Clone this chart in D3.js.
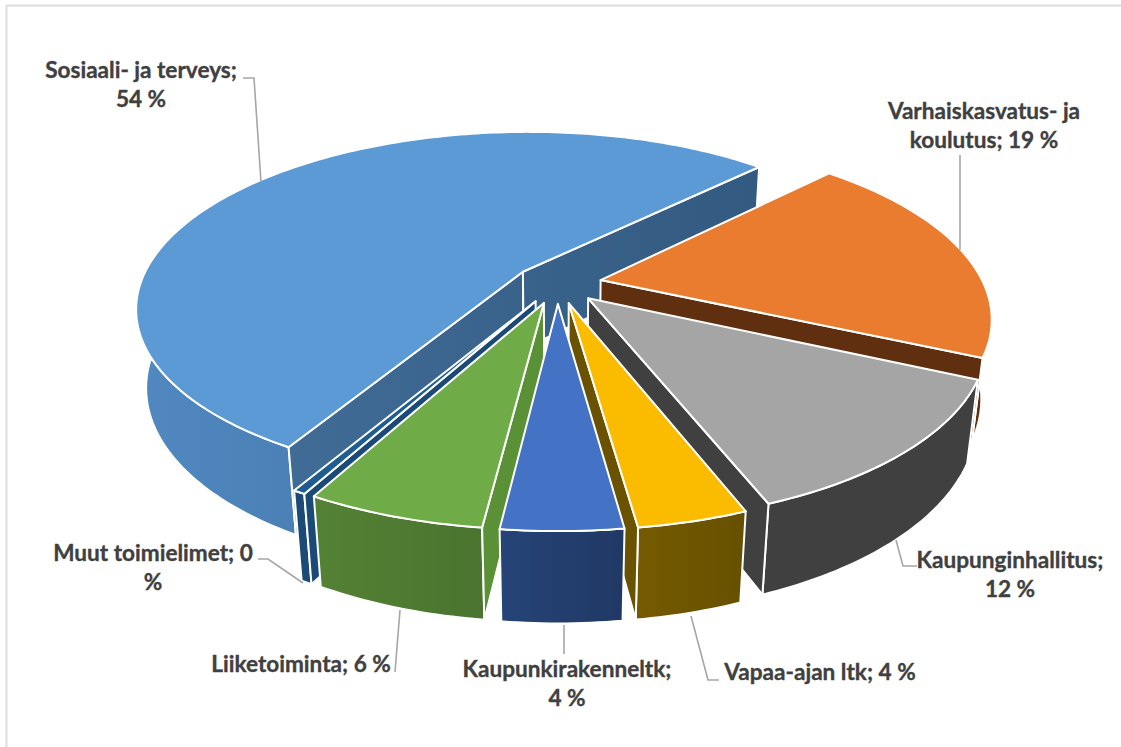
<!DOCTYPE html>
<html><head><meta charset="utf-8">
<script src="https://cdn.jsdelivr.net/npm/d3@7"></script>
<style>html,body{margin:0;padding:0;background:#fff}svg{display:block}</style>
</head><body><div id="chart"></div>
<script>
// --- data ---
const categories = ["Varhaiskasvatus ja koulutus","Kaupunginhallitus","Vapaa-ajan ltk","Kaupunkirakenneltk","Liiketoiminta","Muut toimielimet","Sosiaali- ja terveys"];
const shares = [19.5, 12.28, 3.7, 4.05, 5.99, 0.42, 54.06];
const labelLines = [
  ["Varhaiskasvatus- ja","koulutus; 19 %"],
  ["Kaupunginhallitus;","12 %"],
  ["Vapaa-ajan ltk; 4 %"],
  ["Kaupunkirakenneltk;","4 %"],
  ["Liiketoiminta; 6 %"],
  ["Muut toimielimet; 0","%"],
  ["Sosiaali- ja terveys;","54 %"]
];
// --- styles ---
const topColors  = ["#ea7c30","#a5a5a5","#fbbc00","#4472c4","#6fab47","#1f5c8f","#5b9ad5"];
const wallLeft   = ["#5f2f10","#404040","#6b5200","#203864","#5a9136","#1a4a75","#44719d"];
const wallRight  = ["#5f2f10","#404040","#6b5200","#203864","#5a9136","#1a4a75","#335a80"];
const outerLeft  = ["#5f2f10","#404040","#7f6000","#264478","#548235","#1a4a75","#5088c0"];
const outerRight = ["#5f2f10","#404040","#665000","#203864","#466e2c","#1a4a75","#3a6a98"];
// --- label layout: [centre x, first baseline y] and leader polylines ---
const labelAnchor = [[984,119],[1010,568],[820,680],[567,677],[301,672],[153,561],[141,78]];
const leaders = [
  [[960,155],[960,250]],
  [[917,566],[903,566],[896,540]],
  [[719,680],[708,680],[691,616]],
  [[564,625],[564,654]],
  [[395,672],[400,610]],
  [[258,559],[268,559],[303,583]],
  [[243,78],[254,78],[261,182]]
];
// --- camera ---
const W=1121,H=747;
const cx=557.5, cy=283.6, tilt=Math.asin(0.45), camDist=4.45, focal=1704, explode=0.115, thickness=0.233;
const firstAngle = 44.5*Math.PI/180;

function project(X,Y,Z){
  const c=Math.cos(tilt), s=Math.sin(tilt);
  const w=camDist-(Y*c+Z*s);
  return [cx+focal*X/w, cy+focal*(Y*s-Z*c)/w];
}
const svg=d3.select("#chart").append("svg").attr("width",W).attr("height",H);
const defs=svg.append("defs");
svg.append("path").attr("d",d3.line()([[6.5,747],[6.5,5.5],[1121,5.5]])).attr("fill","none").attr("stroke","#dedede").attr("stroke-width",2);

const pie=d3.pie().sort(null).value(d=>d).startAngle(firstAngle).endAngle(firstAngle+2*Math.PI);
const arcs=pie(shares);
const line=d3.line();

const slices=arcs.map((a,i)=>{
  const mid=(a.startAngle+a.endAngle)/2;
  const ox=explode*Math.sin(mid), oy=-explode*Math.cos(mid);
  const n=Math.max(2,Math.ceil((a.endAngle-a.startAngle)*180/Math.PI));
  const angles=d3.range(n+1).map(k=>a.startAngle+(a.endAngle-a.startAngle)*k/n);
  const rim=angles.map(t=>[ox+Math.sin(t),oy-Math.cos(t)]);
  return {i,mid,ox,oy,rim,depth:oy};
});

function pt(p,z){return project(p[0],p[1],z);}
function makeGrad(id,x0,x1,c0,c1){
  const g=defs.append("linearGradient").attr("id",id).attr("gradientUnits","userSpaceOnUse")
    .attr("x1",x0).attr("x2",x1).attr("y1",0).attr("y2",0);
  g.append("stop").attr("offset",0).attr("stop-color",c0);
  g.append("stop").attr("offset",1).attr("stop-color",c1);
}
const paintOrder=slices.slice().sort((a,b)=>a.depth-b.depth);
paintOrder.forEach(sl=>{
  const g=svg.append("g").attr("class","slice").attr("data-name",categories[sl.i]);
  const apex=[sl.ox,sl.oy];
  const rimTop=sl.rim.map(p=>pt(p,0)), rimBot=sl.rim.map(p=>pt(p,-thickness));
  const xs=rimTop.concat(rimBot).map(p=>p[0]);
  const [x0,x1]=d3.extent(xs.concat(pt(apex,0)[0]));
  makeGrad("w"+sl.i,x0,x1,wallLeft[sl.i],wallRight[sl.i]);
  makeGrad("o"+sl.i,x0,x1,outerLeft[sl.i],outerRight[sl.i]);
  const face=(d,fill)=>g.append("path").attr("d",line(d)+"Z").attr("fill",fill)
    .attr("stroke","#fff").attr("stroke-width",2).attr("stroke-linejoin","round");
  // rim wall, camera-facing cut walls, then top
  face(rimTop.concat(rimBot.slice().reverse()),`url(#o${sl.i})`);
  const first=sl.rim[0], last=sl.rim[sl.rim.length-1];
  const wallA=[pt(apex,0),pt(first,0),pt(first,-thickness),pt(apex,-thickness)];
  const wallB=[pt(apex,0),pt(last,0),pt(last,-thickness),pt(apex,-thickness)];
  if(d3.polygonArea(wallA)>0) face(wallA,`url(#w${sl.i})`);
  if(d3.polygonArea(wallB)<0) face(wallB,`url(#w${sl.i})`);
  face([pt(apex,0)].concat(rimTop),topColors[sl.i]);
});

// leaders and labels
const gl=svg.append("g");
leaders.forEach(p=>gl.append("path").attr("d",line(p)).attr("fill","none").attr("stroke","#a6a6a6").attr("stroke-width",1.6));
labelLines.forEach((ls,i)=>{
  ls.forEach((t,k)=>{
    gl.append("text").attr("x",labelAnchor[i][0]).attr("y",labelAnchor[i][1]+k*29)
      .attr("text-anchor","middle").attr("font-family","Lato, 'Open Sans', sans-serif")
      .attr("font-weight",700).attr("font-size",22.6).attr("fill","#404040")
      .attr("stroke","#404040").attr("stroke-width",0.35).text(t);
  });
});
</script></body></html>
